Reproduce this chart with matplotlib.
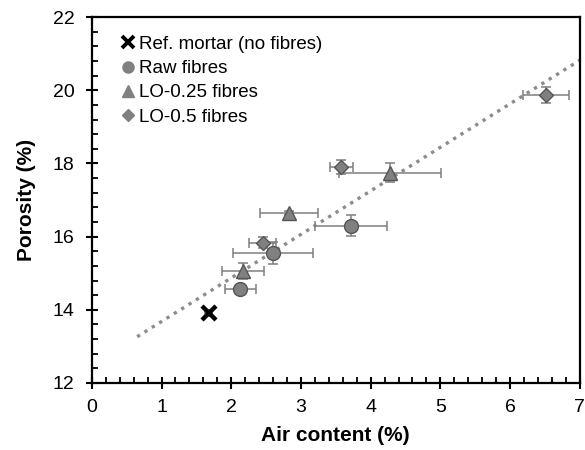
import matplotlib.pyplot as plt
import numpy as np
from matplotlib.ticker import MultipleLocator

plt.rcParams['font.family'] = ['Liberation Sans', 'DejaVu Sans']

# data
ref_x, ref_y = [1.68], [13.92]
ref_xerr, ref_yerr = [0.05], [0.08]

raw_x = [2.13, 2.60, 3.72]
raw_y = [14.57, 15.56, 16.30]
raw_xerr = [0.22, 0.57, 0.52]
raw_yerr = [0.08, 0.30, 0.29]

lo25_x = [2.17, 2.83, 4.28]
lo25_y = [15.06, 16.65, 17.75]
lo25_xerr = [0.30, 0.42, 0.73]
lo25_yerr = [0.22, 0.05, 0.27]

lo5_x = [2.45, 3.58, 6.52]
lo5_y = [15.83, 17.91, 19.88]
lo5_xerr = [0.19, 0.17, 0.33]
lo5_yerr = [0.15, 0.19, 0.22]

fit_slope, fit_icpt = 1.19, 12.49
fit_range = [0.65, 7.0]

fig = plt.figure(figsize=(5.85, 4.5), dpi=100)
ax = fig.add_axes([0.157, 0.149, 0.834, 0.813])

xf = np.array(fit_range)
ax.plot(xf, fit_slope * xf + fit_icpt, ls=(0, (1, 1.6)), lw=2.4, color='#8c8c8c', zorder=1)

eb = dict(ecolor='#7f7f7f', elinewidth=1.1, capsize=3.5, capthick=1.1, ls='none', zorder=2)
mk = dict(mfc='#808080', mec='#555555', mew=1.0, zorder=3)

ax.errorbar(ref_x, ref_y, xerr=ref_xerr, yerr=ref_yerr, **eb)
ax.plot(ref_x, ref_y, 'x', ms=10, mew=3.2, color='black', zorder=4)
ax.errorbar(raw_x, raw_y, xerr=raw_xerr, yerr=raw_yerr, **eb)
ax.plot(raw_x, raw_y, 'o', ms=10, ls='none', **mk)
ax.errorbar(lo25_x, lo25_y, xerr=lo25_xerr, yerr=lo25_yerr, **eb)
ax.plot(lo25_x, lo25_y, '^', ms=10, ls='none', **mk)
ax.errorbar(lo5_x, lo5_y, xerr=lo5_xerr, yerr=lo5_yerr, **eb)
ax.plot(lo5_x, lo5_y, 'D', ms=7.5, ls='none', **mk)

# legend proxies
h1, = ax.plot([], [], 'x', ms=8, mew=2.8, color='black')
h2, = ax.plot([], [], 'o', ms=8, mfc='#808080', mec='#808080')
h3, = ax.plot([], [], '^', ms=8, mfc='#808080', mec='#808080')
h4, = ax.plot([], [], 'D', ms=6, mfc='#808080', mec='#808080')
ax.legend([h1, h2, h3, h4],
          ['Ref. mortar (no fibres)', 'Raw fibres', 'LO-0.25 fibres', 'LO-0.5 fibres'],
          loc='upper left', frameon=False, fontsize=13.5, handlelength=0.6,
          handletextpad=0.3, labelspacing=0.38, borderaxespad=0.3,
          bbox_to_anchor=(0.035, 0.985))

ax.set_xlim(0, 7)
ax.set_ylim(12, 22)
ax.xaxis.set_major_locator(MultipleLocator(1))
ax.xaxis.set_minor_locator(MultipleLocator(0.2))
ax.yaxis.set_major_locator(MultipleLocator(2))
ax.yaxis.set_minor_locator(MultipleLocator(0.4))
ax.tick_params(which='major', direction='inout', length=9, width=1.5, labelsize=14)
ax.tick_params(axis='x', which='major', pad=7)
ax.tick_params(axis='y', which='major', pad=8)
ax.tick_params(which='minor', direction='in', length=4, width=1.3)
ax.tick_params(top=False, right=False, which='both')
for s in ax.spines.values():
    s.set_linewidth(1.6)

ax.set_xlabel('Air content (%)', fontsize=15, fontweight='bold', labelpad=7)
ax.set_ylabel('Porosity (%)', fontsize=15, fontweight='bold', labelpad=12)

fig.savefig('out.png', dpi=100)
